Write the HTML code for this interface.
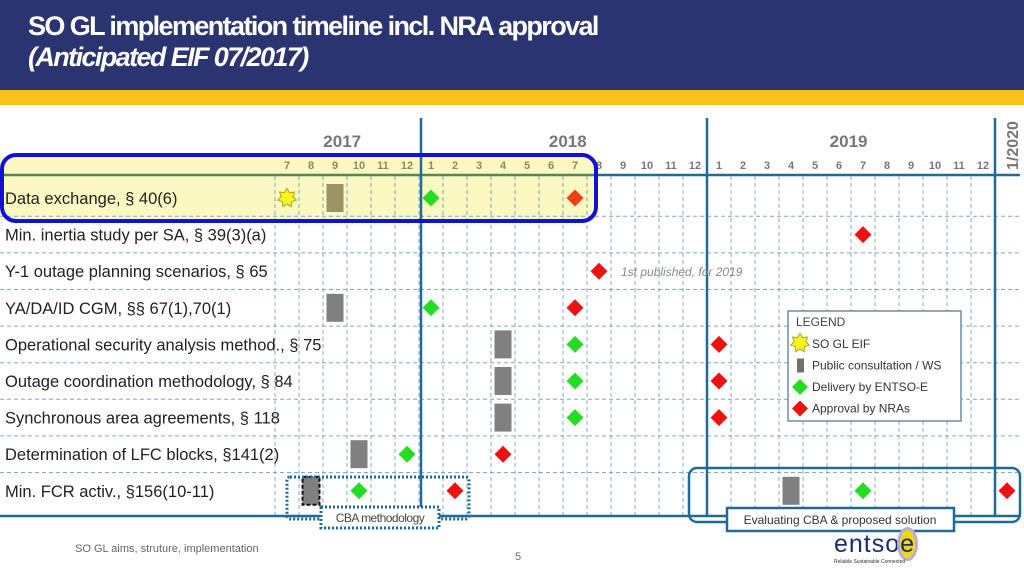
<!DOCTYPE html>
<html><head><meta charset="utf-8"><style>
body{margin:0;width:1024px;height:576px;overflow:hidden;background:#fff;font-family:"Liberation Sans",sans-serif;position:relative}
.ab{position:absolute}
</style></head><body>
<div class="ab" style="left:0;top:0;width:1024px;height:90px;background:#2a3470"></div>
<div class="ab" style="left:0;top:90px;width:1024px;height:15px;background:#f7c21a"></div>
<div class="ab" style="left:28px;top:11px;color:#fff;font-size:27px;font-weight:bold;letter-spacing:-1.6px;line-height:31px">SO GL implementation timeline incl. NRA approval<br><i>(Anticipated EIF 07/2017)</i></div>
<svg class="ab" style="left:0;top:0" width="1024" height="576" id="chart"></svg>
<div class="ab" style="left:75px;top:543px;font-size:11px;color:#666">SO GL aims, struture, implementation</div>
<div class="ab" style="left:515px;top:551px;font-size:11px;color:#666">5</div>
<div class="ab" style="left:834px;top:530px;width:125px;height:38px">
<div style="position:absolute;left:0;top:0;font-size:25px;color:#1e2a6e;letter-spacing:1px">entso<span style="background:#f2d418;border-radius:50%;box-shadow:0 0 0 3px #b5aedb">e</span></div>
<div style="position:absolute;left:0;top:29px;font-size:5px;color:#333">Reliable Sustainable Connected</div></div>
<script>
const rowLabels=["Data exchange, § 40(6)","Min. inertia study per SA, § 39(3)(a)","Y-1 outage planning scenarios, § 65","YA/DA/ID  CGM, §§ 67(1),70(1)","Operational security analysis method., § 75","Outage coordination methodology, § 84","Synchronous area agreements, § 118","Determination of LFC blocks, §141(2)","Min. FCR activ., §156(10-11)"];
const monthLabels=["7","8","9","10","11","12","1","2","3","4","5","6","7","8","9","10","11","12","1","2","3","4","5","6","7","8","9","10","11","12"];
const yearLabels=["2017","2018","2019"];
const yearMonthIdx=[2.3,11.7,23.4];
// markers: [row, monthIndex, type]  type: star, consult, delivery, approval
const markers=[[0,0,"star"],[0,2,"consult"],[0,6,"delivery"],[0,12,"approval"],
[1,24,"approval"],[2,13,"approval"],
[3,2,"consult"],[3,6,"delivery"],[3,12,"approval"],
[4,9,"consult"],[4,12,"delivery"],[4,18,"approval"],
[5,9,"consult"],[5,12,"delivery"],[5,18,"approval"],
[6,9,"consult"],[6,12,"delivery"],[6,18,"approval"],
[7,3,"consult"],[7,5,"delivery"],[7,9,"approval"],
[8,1,"consult"],[8,3,"delivery"],[8,7,"approval"],
[8,21,"consult"],[8,24,"delivery"],[8,30,"approval"]];
const X=m=>287+24*m, Y=r=>198+36.6*r;
const svg=document.getElementById('chart'),NS="http://www.w3.org/2000/svg";
function mk(t,a,name,p){const e=document.createElementNS(NS,t);for(const k in a)e.setAttribute(k,a[k]);


(p||svg).appendChild(e);return e;}
mk('rect',{x:0,y:156,width:597,height:64,fill:'#fbf8c2'},'highlight-fill');
for(let k=0;k<=30;k++){const x=275+24*k;mk('line',{x1:x,y1:176,x2:x,y2:515,stroke:'#7fa9c8','stroke-width':1,'stroke-dasharray':'4,3'},'grid-col');}
for(let r=0;r<8;r++){const y=Y(r)+18.3;mk('line',{x1:0,y1:y,x2:1020,y2:y,stroke:'#7fa9c8','stroke-width':1,'stroke-dasharray':'4,3'},'grid-row');}
mk('line',{x1:0,y1:175,x2:597,y2:175,stroke:'#4f8a5a','stroke-width':2.5},'header-line-hl');
mk('line',{x1:597,y1:175,x2:1020,y2:175,stroke:'#1f6a9a','stroke-width':2.5},'header-line');
mk('line',{x1:0,y1:516,x2:1020,y2:516,stroke:'#1f6a9a','stroke-width':2.5},'bottom-line');
[421,707,995].forEach(x=>mk('line',{x1:x,y1:118,x2:x,y2:516,stroke:'#1f6a9a','stroke-width':2.5},'year-divider'));
monthLabels.forEach((t,i)=>{const e=mk('text',{x:X(i),y:169,'text-anchor':'middle','font-size':11,'font-weight':'bold',fill:X(i)<597?'#8c8a5c':'#777'},'month-label');e.textContent=t;});
yearLabels.forEach((t,i)=>{const e=mk('text',{x:X(yearMonthIdx[i]),y:147,'text-anchor':'middle','font-size':17,'font-weight':'bold',fill:'#777'},'year-label');e.textContent=t;});
const y20=mk('text',{x:0,y:0,transform:'translate(1018,170) rotate(-90)','font-size':16,'font-weight':'bold',fill:'#777'},'year-label-2020');y20.textContent='1/2020';
rowLabels.forEach((t,r)=>{const e=mk('text',{x:5,y:Y(r)+6,'font-size':16.5,fill:'#222'},'row-label');e.textContent=t;});
const n=mk('text',{x:621,y:Y(2)+5,'font-size':12,'font-style':'italic',fill:'#888'},'note-text');n.textContent='1st published, for 2019';
function star(cx,cy,name){let p=[];for(let i=0;i<14;i++){const a=Math.PI*i/7-Math.PI/2,rr=i%2?6:9.5;p.push((cx+rr*Math.cos(a)).toFixed(1)+','+(cy+rr*Math.sin(a)).toFixed(1));}
mk('polygon',{points:p.join(' '),fill:'#f5f520',stroke:'#b0a020','stroke-width':1},name);}
function dia(cx,cy,c,name,s){s=s||8.5;mk('polygon',{points:`${cx},${cy-s} ${cx+s},${cy} ${cx},${cy+s} ${cx-s},${cy}`,fill:c},name);}
markers.forEach(([r,m,t])=>{const cx=X(m),cy=Y(r);
if(t==='star')star(cx,cy,'eif-star');
else if(t==='consult'){const e=mk('rect',{x:cx-8.5,y:cy-14,width:17,height:28,fill:r===0?'#9a9466':'#808080'},'consultation-bar');if(r===8&&m<10){e.setAttribute('stroke','#111');e.setAttribute('stroke-dasharray','4,2');e.setAttribute('stroke-width',2);}}
else if(t==='delivery')dia(cx,cy,'#22dd22','delivery-marker');
else dia(cx,cy,r===0?'#f04018':'#ee1111','approval-marker');});
mk('rect',{x:2,y:155,width:594,height:66,rx:14,fill:'none',stroke:'#1010d8','stroke-width':4},'highlight-border');
mk('rect',{x:287,y:477,width:182,height:42,rx:3,fill:'none',stroke:'#1f6a9a','stroke-width':3,'stroke-dasharray':'2,2'},'cba-group-box');
mk('rect',{x:321,y:507,width:118,height:21,fill:'#fff',stroke:'#1f6a9a','stroke-width':3,'stroke-dasharray':'2,2'},'cba-label-box');
const cb=mk('text',{x:380,y:522,'text-anchor':'middle','font-size':12,fill:'#444','letter-spacing':'-0.5'},'cba-label');cb.textContent='CBA methodology';
mk('rect',{x:689,y:468,width:331,height:54,rx:8,fill:'none',stroke:'#1f6a9a','stroke-width':2.5},'evaluation-group-box');
mk('rect',{x:727,y:508,width:227,height:23,fill:'#fff',stroke:'#1f6a9a','stroke-width':2.5},'evaluation-label-box');
const ev=mk('text',{x:840,y:524,'text-anchor':'middle','font-size':12,fill:'#333'},'evaluation-label');ev.textContent='Evaluating  CBA & proposed solution';
const lg=mk('g',{},'legend');
mk('rect',{x:788,y:311,width:173,height:110,fill:'#fff',stroke:'#6a8ea8','stroke-width':1.5},'legend-box',lg);
const lt=mk('text',{x:796,y:326,'font-size':12,fill:'#444'},'legend-title',lg);lt.textContent='LEGEND';
[['SO GL EIF','star'],['Public consultation  / WS','consult'],['Delivery by ENTSO-E','delivery'],['Approval by NRAs','approval']].forEach(([t,k],i)=>{const cy=344+21.5*i;
if(k==='star')star(800,cy-1,'legend-star');else if(k==='consult')mk('rect',{x:797,y:cy-7,width:7,height:14,fill:'#707070'},'legend-bar');else dia(800,cy,k==='delivery'?'#22dd22':'#ee1111','legend-diamond',8);
const e=mk('text',{x:812,y:cy+4,'font-size':12,fill:'#333'},'legend-entry');e.textContent=t;});
</script>
</body></html>
